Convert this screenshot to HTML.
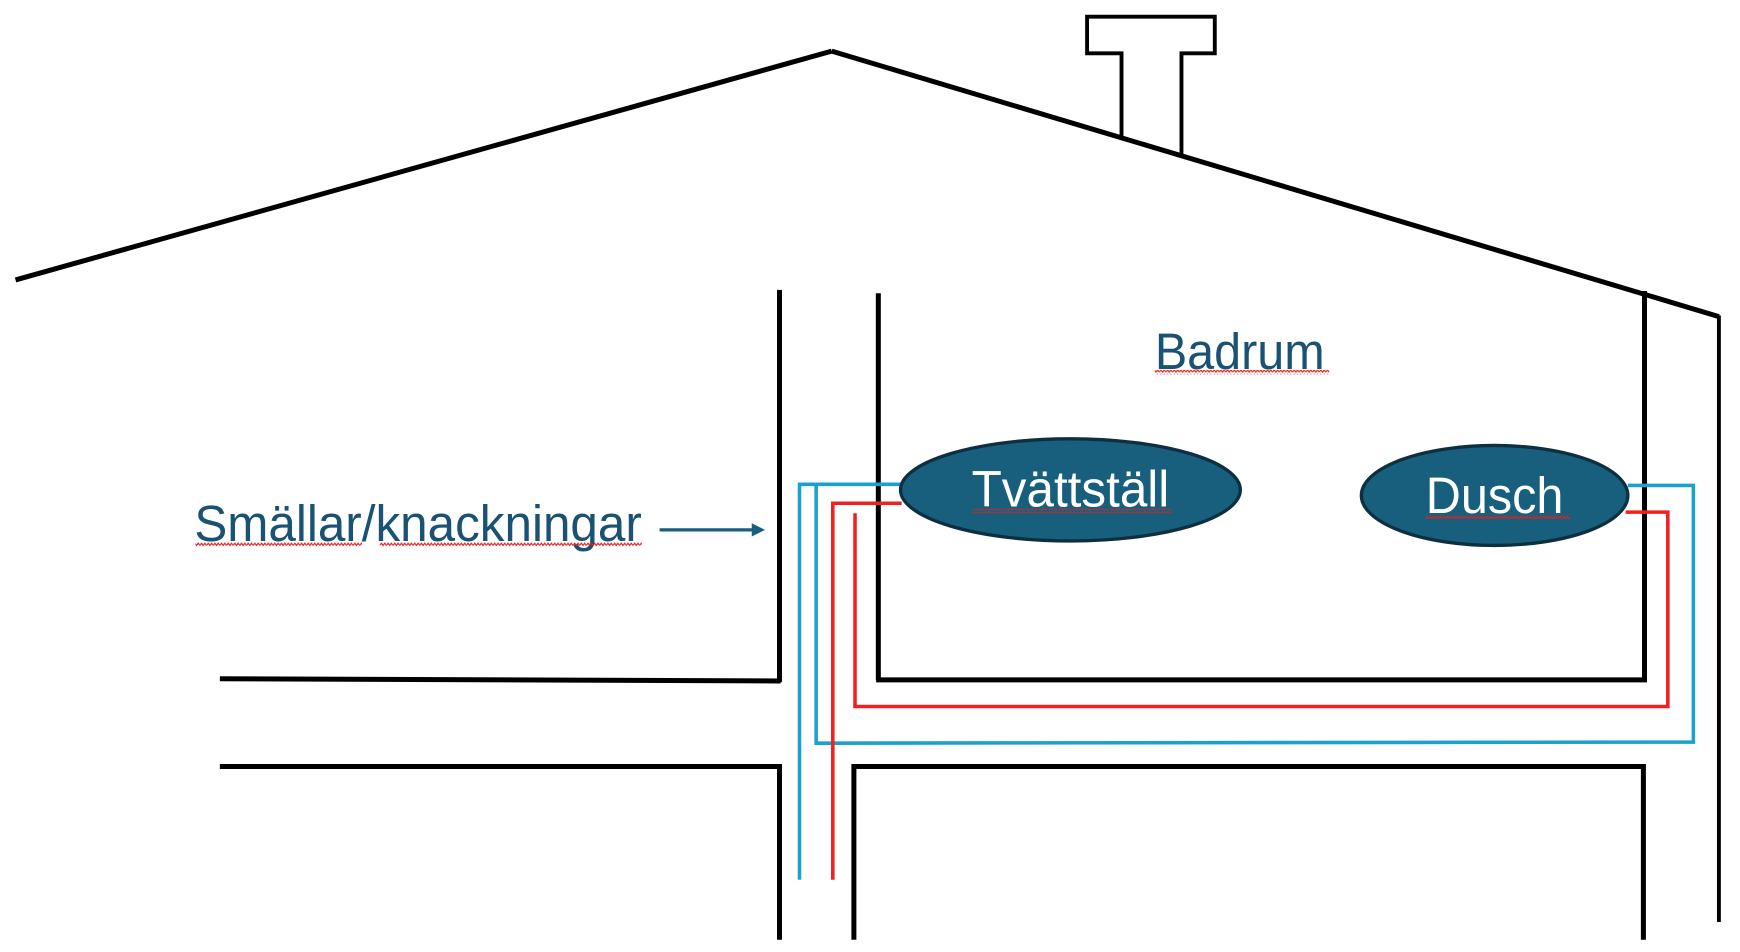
<!DOCTYPE html>
<html><head><meta charset="utf-8"><style>
html,body{margin:0;padding:0;background:#fff;width:1740px;height:952px;overflow:hidden}
svg{display:block}
text{font-family:"Liberation Sans",sans-serif}
</style></head><body>
<svg width="1740" height="952" viewBox="0 0 1567 857" preserveAspectRatio="none" xmlns="http://www.w3.org/2000/svg">
<defs>
<pattern id="wv" width="6" height="4" patternUnits="userSpaceOnUse"><path d="M0,3 L1.5,1 L3,3 L4.5,1 L6,3" stroke="#e02020" stroke-width="1" fill="none"/></pattern>
</defs>
<g stroke="#000" fill="none" stroke-width="4.5">
<line x1="14" y1="252" x2="749" y2="46"/>
<line x1="749" y1="46" x2="1548" y2="285"/>
<polyline stroke-width="3.5" points="1010,124 1010,48 979,48 979,15 1094,15 1094,48 1064,48 1064,140"/>
<line stroke-width="3.5" x1="1548" y1="284" x2="1548" y2="830"/>
<line x1="702" y1="261" x2="702" y2="614"/>
<line x1="198" y1="611" x2="703" y2="613"/>
<polyline points="198,690 702,690 702,846"/>
<line x1="791" y1="264" x2="791" y2="612"/>
<polyline points="789,612 1481,612 1481,262"/>
<polyline points="769,846 769,690 1480,690 1480,846"/>
</g>
<g fill="none" stroke-width="3.2">
<polyline stroke="#1ba0d0" points="720,792 720,436 812,436"/>
<polyline stroke="#1ba0d0" points="735,436 735,669 1525,668 1525,437 1466,437"/>
<polyline stroke="#f02020" points="750,792 750,453 812,453"/>
<polyline stroke="#f02020" points="770,462 770,636 1502,636 1502,461 1464,461"/>
</g>
<ellipse cx="964" cy="441" rx="153" ry="46" fill="#175f7d" stroke="#0d2f40" stroke-width="3"/>
<ellipse cx="1346" cy="446" rx="120" ry="45" fill="#175f7d" stroke="#0d2f40" stroke-width="3"/>
<text x="1040" y="332" font-size="46" fill="#1a5273" textLength="153" lengthAdjust="spacingAndGlyphs">Badrum</text>
<rect x="1040" y="333" width="157" height="4" fill="url(#wv)"/>
<text x="175" y="487" font-size="46" fill="#1a5273" textLength="403" lengthAdjust="spacingAndGlyphs">Smällar/knackningar</text>
<rect x="176" y="488" width="150" height="4" fill="url(#wv)"/>
<rect x="342" y="488" width="236" height="4" fill="url(#wv)"/>
<line x1="594" y1="477" x2="680" y2="477" stroke="#1a5e7e" stroke-width="3"/>
<polygon points="689,477 677,471 677,483" fill="#1a5e7e"/>
<text x="964" y="456" font-size="46" fill="#fff" text-anchor="middle" textLength="178" lengthAdjust="spacingAndGlyphs">Tvättställ</text>
<rect x="876" y="458" width="180" height="4" fill="url(#wv)"/>
<text x="1346" y="462" font-size="46" fill="#fff" text-anchor="middle" textLength="124" lengthAdjust="spacingAndGlyphs">Dusch</text>
<rect x="1284" y="463" width="130" height="4" fill="url(#wv)"/>
</svg>
</body></html>
